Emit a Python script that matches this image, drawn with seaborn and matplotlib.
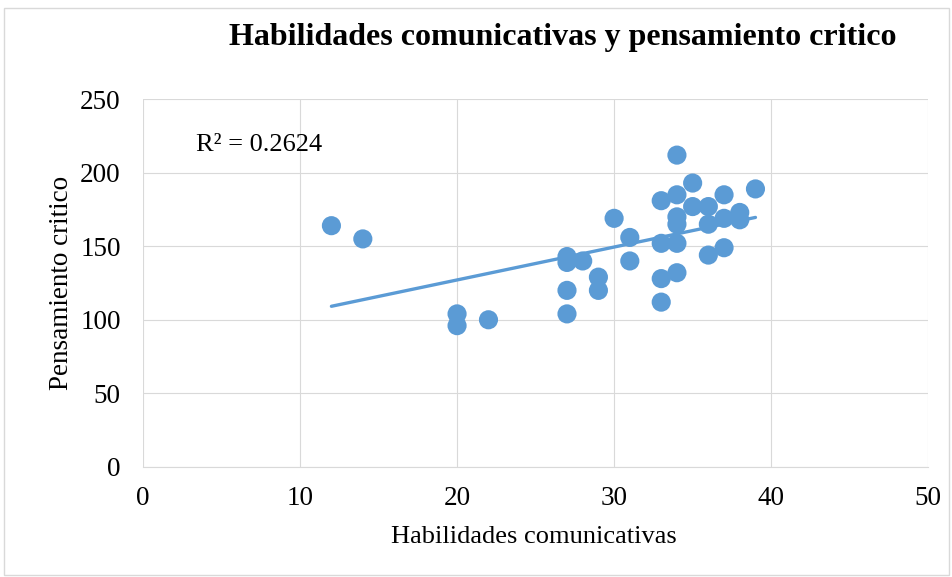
import numpy as np
import pandas as pd
import matplotlib
matplotlib.use("Agg")
import matplotlib.pyplot as plt
import seaborn as sns
from matplotlib.patches import Rectangle

# datos
habilidades = [12, 14, 20, 20, 22, 27, 27, 27, 27, 28, 29, 29, 30, 31, 31,
               33, 33, 33, 33, 34, 34, 34, 34, 34, 34, 35, 35, 36, 36, 36,
               37, 37, 37, 38, 38, 39]
pensamiento = [164, 155, 104, 96, 100, 143, 139, 120, 104, 140, 129, 120, 169, 156, 140,
               181, 152, 128, 112, 212, 185, 170, 165, 152, 132, 193, 177, 177, 165, 144,
               185, 169, 149, 173, 168, 189]
r2_label = "R² = 0.2624"

df = pd.DataFrame({"x": habilidades, "y": pensamiento})

sns.set_style("whitegrid", {"grid.color": "#D9D9D9", "text.color": "black",
                            "xtick.color": "black", "ytick.color": "black"})
plt.rcParams["font.family"] = ["Liberation Serif", "DejaVu Serif"]

azul = "#5B9BD5"
fig = plt.figure(figsize=(9.53, 5.77), dpi=100)
ax = fig.add_axes([0.150, 0.191, 0.824, 0.637])

sns.regplot(data=df, x="x", y="y", ax=ax, ci=None,
            scatter_kws={"s": 190, "color": azul, "edgecolor": "none", "alpha": 1, "zorder": 3},
            line_kws={"color": azul, "lw": 2.4, "zorder": 4})

ax.set_xlim(0, 50)
ax.set_ylim(0, 250)
ax.set_xticks(range(0, 51, 10))
ax.set_yticks(range(0, 251, 50))
ax.tick_params(labelsize=19.5, length=0, labelcolor="black")
ax.tick_params(axis="x", pad=14)
ax.tick_params(axis="y", pad=16)
for s in ["top", "right", "left"]:
    ax.spines[s].set_visible(False)
ax.spines["bottom"].set_color("#D9D9D9")
ax.set_xlabel("")
ax.set_ylabel("")

ax.text(3.4, 219, r2_label, fontsize=19, va="center", ha="left", color="black")

fig.text(563 / 953, 1 - 37 / 577, "Habilidades comunicativas y pensamiento critico",
         fontsize=23, fontweight="bold", ha="center", va="center", color="black")
fig.text(534 / 953, 1 - 537 / 577, "Habilidades comunicativas",
         fontsize=19, ha="center", va="center", color="black")
fig.text(62 / 953, 1 - 283 / 577, "Pensamiento critico",
         fontsize=19.5, ha="center", va="center", rotation=90, color="black")

fig.patches.append(Rectangle((0.004, 0.004), 0.992, 0.982, transform=fig.transFigure,
                             fill=False, edgecolor="#D9D9D9", lw=1))

fig.savefig("out.png", dpi=100)
